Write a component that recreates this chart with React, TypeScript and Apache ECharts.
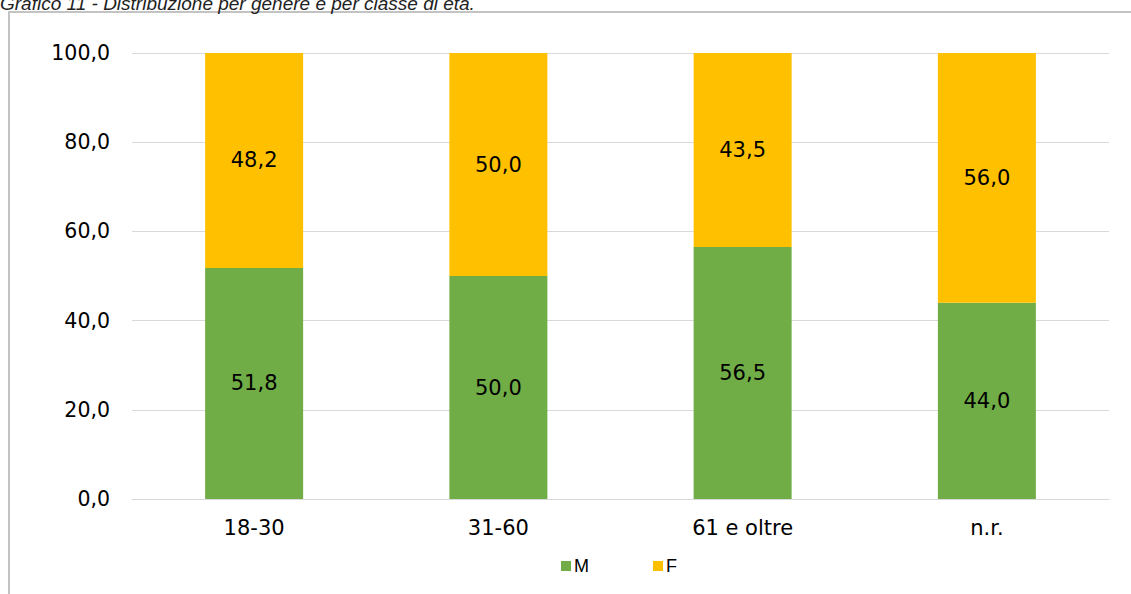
import React, { useEffect, useRef } from "react";
import * as echarts from "echarts";

const categories = ["18-30", "31-60", "61 e oltre", "n.r."];
const maleValues = [51.8, 50.0, 56.5, 44.0];
const femaleValues = [48.2, 50.0, 43.5, 56.0];
const seriesNames = ["M", "F"];
const titleText = "Grafico 11 - Distribuzione per genere e per classe di età.";

const fmt = (v: number) => v.toFixed(1).replace(".", ",");

export default function App() {
  const ref = useRef<HTMLDivElement>(null);
  useEffect(() => {
    if (!ref.current) return;
    const chart = echarts.init(ref.current, null, { renderer: "svg" });
    const labelStyle = {
      show: true,
      position: "inside" as const,
      color: "#000",
      fontFamily: "DejaVu Sans",
      fontSize: 21,
      formatter: (p: any) => fmt(p.value),
    };
    chart.setOption({
      animation: false,
      backgroundColor: "#fff",
      graphic: [
        {
          type: "rect",
          shape: { x: 9, y: 12, width: 1300, height: 800 },
          style: { fill: "none", stroke: "#c3c3c3", lineWidth: 2 },
          z: -10,
        },
        {
          type: "text",
          x: 0,
          y: 3,
          style: {
            text: titleText,
            font: "italic 19px 'Liberation Sans', Arial, sans-serif",
            fill: "#222",
            verticalAlign: "middle",
          },
        },
      ],
      grid: { left: 132, right: 22, top: 53, bottom: 95 },
      legend: {
        data: seriesNames,
        bottom: 14,
        left: 556,
        itemWidth: 10,
        itemHeight: 10,
        itemGap: 64,
        icon: "rect",
        textStyle: { fontFamily: "Liberation Sans, Arial", fontSize: 18, color: "#000", padding: [0, 0, 0, -2] },
      },
      xAxis: {
        type: "category",
        data: categories,
        axisLine: { show: true, lineStyle: { color: "#d9d9d9", width: 1 } },
        axisTick: { show: false },
        axisLabel: { fontFamily: "DejaVu Sans", fontSize: 21, color: "#000", margin: 18 },
      },
      yAxis: {
        type: "value",
        min: 0,
        max: 100,
        interval: 20,
        axisLine: { show: false },
        axisTick: { show: false },
        splitLine: { lineStyle: { color: "#d9d9d9", width: 1 } },
        axisLabel: {
          fontFamily: "DejaVu Sans",
          fontSize: 20.5,
          color: "#000",
          margin: 22,
          formatter: (v: number) => fmt(v),
        },
      },
      series: [
        {
          name: seriesNames[0],
          type: "bar",
          stack: "total",
          data: maleValues,
          barWidth: 98,
          itemStyle: { color: "#70ad47" },
          label: labelStyle,
        },
        {
          name: seriesNames[1],
          type: "bar",
          stack: "total",
          data: femaleValues,
          barWidth: 98,
          itemStyle: { color: "#ffc000" },
          label: labelStyle,
        },
      ],
    });
    return () => chart.dispose();
  }, []);
  return (
    <div
      ref={ref}
      style={{ position: "absolute", left: 0, top: 0, width: 1131, height: 594 }}
    />
  );
}
